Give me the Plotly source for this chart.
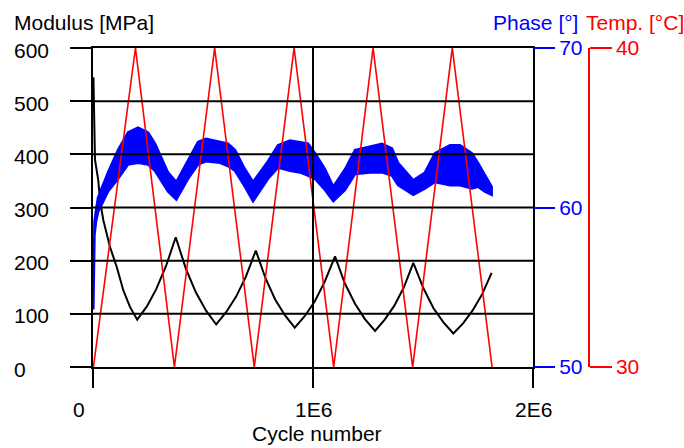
import plotly.graph_objects as go

# ---------------- data ----------------
modulus_ticks = [0, 100, 200, 300, 400, 500, 600]
cycle_ticks = [0, 1000000, 2000000]
cycle_tick_text = ["0", "1E6", "2E6"]
phase_ticks = [50, 60, 70]
temp_ticks = [30, 40]

cycles_mod = [2000, 9000, 24000, 32000, 47000, 77000, 108000, 138000, 168000, 201000,
              245000, 288000, 332000, 376000,
              422000, 468000, 514000, 560000,
              605000, 650000, 695000, 740000,
              784000, 828000, 873000, 917000,
              963000, 1009000, 1054000, 1100000,
              1145000, 1191000, 1236000, 1282000,
              1326000, 1369000, 1413000, 1456000,
              1502000, 1547000, 1593000, 1638000,
              1682000, 1725000, 1769000, 1812000]
modulus = [545, 390, 351, 313, 276, 226, 188, 144, 113, 89,
           114, 147, 190, 244,
           185, 140, 106, 80,
           103, 132, 170, 219,
           167, 127, 97, 74,
           96, 124, 161, 208,
           157, 119, 90, 68,
           89, 115, 150, 196,
           148, 111, 84, 63,
           82, 106, 137, 177]

cycles_temp = [2000, 193000, 370000, 553000, 733000, 914000, 1094000,
               1273000, 1453000, 1633000, 1814000]
temperature = [30, 40, 30, 40, 30, 40, 30, 40, 30, 40, 30]

cycles_phase = [1400, 6800, 13600, 22700, 36400, 68200, 113600, 159100, 204500, 250000,
                281800, 340900, 378600, 431800, 477300, 513600, 577300, 613600, 645500,
                690900, 727300, 795500, 840900, 895500, 940900, 977300, 1009100, 1054500,
                1092300, 1145500, 1190900, 1259100, 1313600, 1359100, 1386400, 1455900,
                1509100, 1554500, 1622700, 1668200, 1722700, 1750000, 1781800, 1812300]
phase_upper = [53.9, 59.1, 59.8, 60.6, 61.1, 62.2, 63.6, 64.7, 65.0, 64.7, 64.0, 62.2,
               61.6, 62.9, 64.1, 64.3, 64.1, 64.0, 63.6, 62.4, 61.6, 62.9, 63.9, 64.2,
               64.1, 64.0, 63.4, 62.4, 61.3, 62.4, 63.6, 63.8, 64.0, 63.7, 62.8, 61.7,
               62.2, 63.4, 63.9, 63.9, 63.4, 62.8, 62.0, 61.3]
phase_lower = [53.6, 58.3, 59.1, 59.7, 60.1, 61.0, 61.8, 62.7, 62.8, 62.7, 62.3, 61.0,
               60.5, 61.8, 62.7, 62.9, 62.8, 62.6, 62.3, 61.3, 60.4, 61.8, 62.5, 62.3,
               62.2, 62.0, 61.8, 61.1, 60.4, 61.1, 62.1, 62.2, 62.2, 62.0, 61.4, 60.8,
               61.2, 61.6, 61.4, 61.4, 61.2, 61.3, 61.0, 60.8]

# ---------------- layout geometry ----------------
W, H = 684, 448
ML, MR, MT, MB = 93, 0, 48, 81
PW, PH = W - ML - MR, H - MT - MB
PLOT_RIGHT = 533
TEMP_AXIS_X = 589


def px(x):
    return (x - ML) / PW


def py(y):
    return (H - MB - y) / PH


FONT = "Liberation Sans, Arial, sans-serif"
FS = 21
BLUE = "#0000ff"
RED = "#ff0000"

fig = go.Figure()

# phase noise band
fig.add_trace(go.Scatter(
    x=cycles_phase + cycles_phase[::-1],
    y=phase_upper + phase_lower[::-1],
    yaxis="y2", mode="lines", fill="toself",
    fillcolor=BLUE, line=dict(color=BLUE, width=2.5),
    hoverinfo="skip", showlegend=False))

# temperature
fig.add_trace(go.Scatter(
    x=cycles_temp, y=temperature, yaxis="y3", mode="lines",
    line=dict(color=RED, width=1.6), showlegend=False))

# modulus
fig.add_trace(go.Scatter(
    x=cycles_mod, y=modulus, mode="lines",
    line=dict(color="black", width=2), showlegend=False))

shapes = []
for v in modulus_ticks[1:-1]:
    shapes.append(dict(type="line", xref="x", yref="y", x0=cycle_ticks[0], x1=cycle_ticks[-1],
                       y0=v, y1=v, layer="above", line=dict(color="black", width=2)))
for c in cycle_ticks[1:-1]:
    shapes.append(dict(type="line", xref="x", yref="y", x0=c, x1=c,
                       y0=modulus_ticks[0], y1=modulus_ticks[-1], layer="above",
                       line=dict(color="black", width=2)))

annotations = []
for v in modulus_ticks:
    annotations.append(dict(text=str(v), xref="paper", yref="y", x=px(12), y=v,
                            xanchor="left", yanchor="middle", yshift=-2, showarrow=False,
                            font=dict(family=FONT, size=FS, color="black")))
for c, t in zip(cycle_ticks, cycle_tick_text):
    annotations.append(dict(text=t, xref="x", yref="paper", x=c, y=py(409),
                            xshift=-14 if c == 0 else 0,
                            xanchor="center", yanchor="middle", showarrow=False,
                            font=dict(family=FONT, size=FS, color="black")))
annotations.append(dict(text="Cycle number", xref="paper", yref="paper", x=px(316.5), y=py(433),
                        xanchor="center", yanchor="middle", showarrow=False,
                        font=dict(family=FONT, size=FS, color="black")))
annotations.append(dict(text="Modulus [MPa]", xref="paper", yref="paper", x=px(12), y=py(22),
                        xanchor="left", yanchor="middle", showarrow=False,
                        font=dict(family=FONT, size=FS, color="black")))
annotations.append(dict(text="Phase [°]", xref="paper", yref="paper", x=px(580), y=py(22),
                        xanchor="right", yanchor="middle", showarrow=False,
                        font=dict(family=FONT, size=FS, color=BLUE)))
annotations.append(dict(text="Temp. [°C]", xref="paper", yref="paper", x=px(584), y=py(22),
                        xanchor="left", yanchor="middle", showarrow=False,
                        font=dict(family=FONT, size=FS, color=RED)))

fig.update_layout(
    width=W, height=H,
    margin=dict(l=ML, r=MR, t=MT, b=MB, pad=0),
    paper_bgcolor="white", plot_bgcolor="white",
    font=dict(family=FONT, size=FS, color="black"),
    showlegend=False,
    xaxis=dict(domain=[0, px(PLOT_RIGHT)], range=[cycle_ticks[0], cycle_ticks[-1]],
               tickvals=cycle_ticks, showticklabels=False,
               ticks="outside", ticklen=19, tickwidth=2, tickcolor="black",
               showgrid=False, zeroline=False,
               showline=True, linecolor="black", linewidth=2, mirror=True,
               layer="above traces"),
    yaxis=dict(range=[modulus_ticks[0], modulus_ticks[-1]], tickvals=modulus_ticks,
               showticklabels=False,
               ticks="outside", ticklen=21, tickwidth=2, tickcolor="black",
               showgrid=False, zeroline=False,
               showline=True, linecolor="black", linewidth=2, mirror=True,
               layer="above traces"),
    yaxis2=dict(overlaying="y", side="right", anchor="x",
                range=[phase_ticks[0], phase_ticks[-1]], tickvals=phase_ticks,
                ticks="outside", ticklen=21, tickwidth=1.5, tickcolor=BLUE,
                tickfont=dict(family=FONT, size=FS, color=BLUE),
                showgrid=False, zeroline=False, showline=False),
    yaxis3=dict(overlaying="y", side="right", anchor="free", position=px(TEMP_AXIS_X),
                range=[temp_ticks[0], temp_ticks[-1]], tickvals=temp_ticks,
                ticks="outside", ticklen=22, tickwidth=1.5, tickcolor=RED,
                tickfont=dict(family=FONT, size=FS, color=RED),
                showgrid=False, zeroline=False,
                showline=True, linecolor=RED, linewidth=1.5),
    shapes=shapes,
    annotations=annotations,
)

fig.write_html("out.html")
